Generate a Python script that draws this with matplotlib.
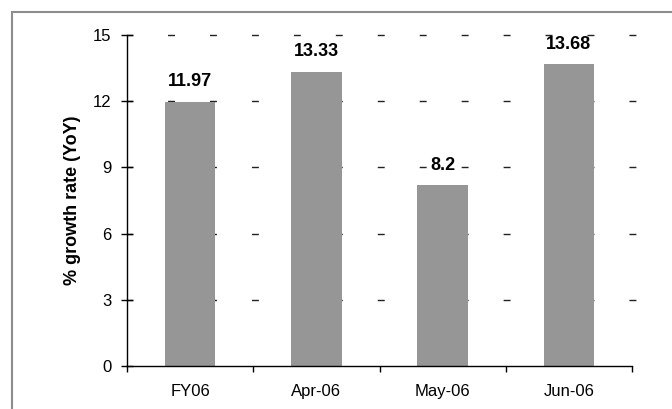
import numpy as np
import matplotlib.pyplot as plt
from matplotlib.patches import Rectangle

categories = ['FY06', 'Apr-06', 'May-06', 'Jun-06']
growth = [11.97, 13.33, 8.2, 13.68]
value_labels = ['11.97', '13.33', '8.2', '13.68']
yticks = [0, 3, 6, 9, 12, 15]


def main():
    plt.rcParams['font.family'] = ['Liberation Sans', 'DejaVu Sans']

    fig = plt.figure(figsize=(6.72, 4.09), dpi=100)
    W, H = 672.0, 409.0

    # grey outer chart border (runs off the right and bottom edges)
    fig.patches.append(Rectangle((12 / W, -0.05), 1.0, (H - 12) / H + 0.05,
                                 transform=fig.transFigure, fill=False,
                                 edgecolor='#8c8c8c', linewidth=1.5))

    ax = fig.add_axes([127 / W, 43 / H, (632 - 127) / W, (374 - 43) / H])
    x = np.arange(len(categories))

    ax.bar(x, growth, width=0.4, color='#969696', zorder=2)

    # dashed horizontal gridlines behind the bars
    for yv in yticks[1:]:
        ax.plot([-0.5, 3.53], [yv, yv], color='#222222', linewidth=1.0,
                linestyle=(1.0, (5.0, 25.2)), zorder=1, clip_on=False)

    for xi, v, lab in zip(x, growth, value_labels):
        ax.annotate(lab, (xi, v), xytext=(0, 20), textcoords='offset pixels',
                    ha='center', va='center', fontsize=13, fontweight='bold',
                    zorder=3)

    ax.set_xlim(-0.5, 3.5)
    ax.set_ylim(0, 15)
    ax.set_yticks(yticks)
    ax.set_xticks(np.arange(-0.5, 4, 1))
    ax.set_xticklabels([])
    ax.set_xticks(x, minor=True)
    ax.set_xticklabels(categories, minor=True)

    ax.tick_params(axis='y', direction='inout', length=9, width=1,
                   labelsize=12, pad=6.5)
    ax.tick_params(axis='x', which='major', direction='out', length=4, width=1)
    ax.tick_params(axis='x', which='minor', length=0, labelsize=12, pad=13)

    ax.spines['top'].set_visible(False)
    ax.spines['right'].set_visible(False)
    ax.spines['left'].set_linewidth(1)
    ax.spines['bottom'].set_linewidth(1)

    ax.set_ylabel('% growth rate (YoY)', fontsize=13, fontweight='bold',
                  labelpad=9)

    plt.savefig('out.png', dpi=100)


if __name__ == '__main__':
    main()
